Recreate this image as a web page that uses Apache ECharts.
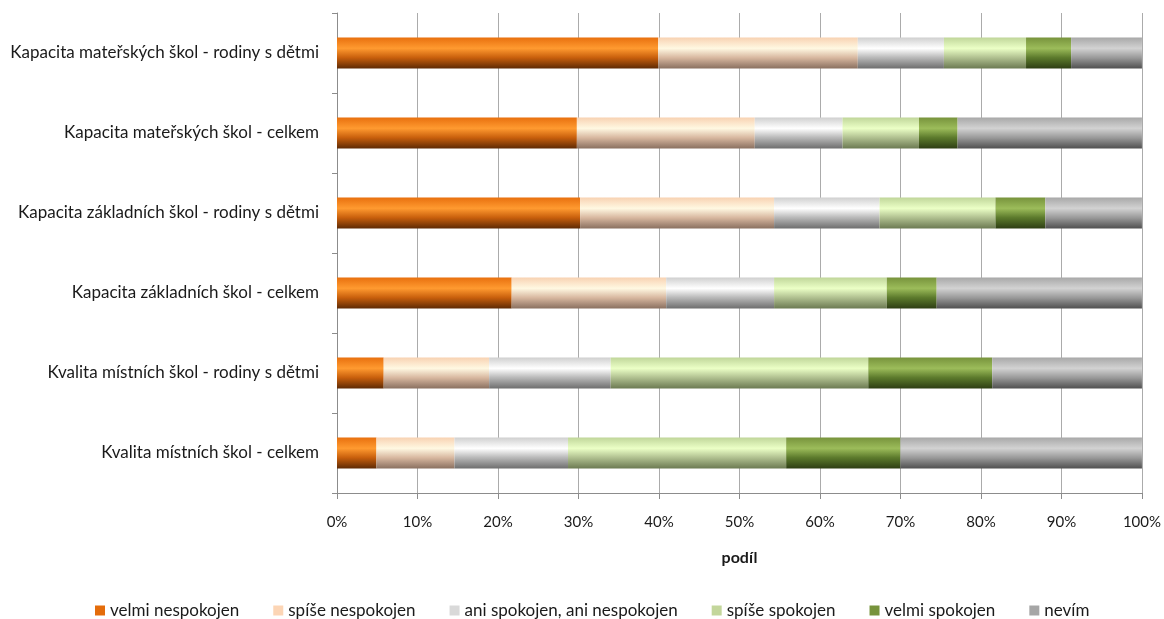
<!DOCTYPE html>
<html>
<head>
<meta charset="utf-8">
<script src="https://cdn.jsdelivr.net/npm/echarts@6/dist/echarts.min.js"></script>
<style>
html,body{margin:0;padding:0;background:#fff;}
#chart{width:1164px;height:619px;}
</style>
</head>
<body>
<div id="chart"></div>
<script>
var categories = [
  "Kapacita mateřských škol - rodiny s dětmi",
  "Kapacita mateřských škol - celkem",
  "Kapacita základních škol - rodiny s dětmi",
  "Kapacita základních škol - celkem",
  "Kvalita místních škol - rodiny s dětmi",
  "Kvalita místních škol - celkem"
];
var seriesNames = ["velmi nespokojen", "spíše nespokojen", "ani spokojen, ani nespokojen", "spíše spokojen", "velmi spokojen", "nevím"];
var velmiNespokojen = [39.9, 29.8, 30.2, 21.7, 5.8, 4.9];
var spiseNespokojen = [24.8, 22.1, 24.1, 19.2, 13.1, 9.7];
var aniAni = [10.7, 10.9, 13.1, 13.4, 15.1, 14.1];
var spiseSpokojen = [10.2, 9.5, 14.4, 14.0, 32.0, 27.1];
var velmiSpokojen = [5.6, 4.8, 6.2, 6.2, 15.4, 14.2];
var nevim = [8.8, 22.9, 12.0, 25.5, 18.6, 30.0];
var xTicks = [0, 10, 20, 30, 40, 50, 60, 70, 80, 90, 100];

var seriesData = [velmiNespokojen, spiseNespokojen, aniAni, spiseSpokojen, velmiSpokojen, nevim];
var legendColors = ["#E46C0A", "#FCD5B5", "#D9D9D9", "#C3D69B", "#77933C", "#A6A6A6"];
var gradStops = [
  ["#E8700E", "#FF9A30", "#C85F0C", "#5E2A04"],
  ["#F8D2B2", "#FFF8E2", "#D8B8A0", "#8A7060"],
  ["#CFCFCF", "#FFFFFF", "#B8B8B8", "#6E6E6E"],
  ["#C0D69A", "#EBFFC6", "#B0C090", "#6C7A52"],
  ["#77933C", "#9CBC5A", "#5C7A2C", "#2E3E14"],
  ["#A8A8A8", "#D2D2D2", "#9A9A9A", "#505050"]
];

var FONT = "Lato";
var chart = echarts.init(document.getElementById('chart'), null, {renderer: 'canvas'});

var series = seriesNames.map(function (name, i) {
  return {
    name: name,
    type: 'bar',
    stack: 'total',
    barWidth: 31,
    data: seriesData[i],
    itemStyle: {
      color: new echarts.graphic.LinearGradient(0, 0, 0, 1, [
        {offset: 0, color: gradStops[i][0]},
        {offset: 0.35, color: gradStops[i][1]},
        {offset: 0.65, color: gradStops[i][2]},
        {offset: 1, color: gradStops[i][3]}
      ])
    },
    emphasis: {disabled: true}
  };
});

chart.setOption({
  animation: false,
  backgroundColor: '#fff',
  color: legendColors,
  grid: {left: 337, right: 21, top: 13, bottom: 126, containLabel: false},
  legend: {
    top: 597,
    left: 90,
    icon: 'rect',
    itemWidth: 10,
    itemHeight: 10,
    itemGap: 34,
    textStyle: {fontFamily: FONT, fontSize: 17, color: '#1a1a1a'},
    data: seriesNames.map(function (n, i) { return {name: n, itemStyle: {color: legendColors[i]}}; })
  },
  xAxis: {
    type: 'value',
    min: xTicks[0],
    max: xTicks[xTicks.length - 1],
    interval: 10,
    name: 'podíl',
    nameLocation: 'middle',
    nameGap: 57,
    nameTextStyle: {fontFamily: FONT, fontSize: 16, fontWeight: 'bold', color: '#1a1a1a'},
    axisLine: {show: true, lineStyle: {color: '#8c8c8c', width: 1}},
    axisTick: {show: true, length: 6, lineStyle: {color: '#8c8c8c'}},
    axisLabel: {formatter: '{value}%', margin: 22, fontFamily: FONT, fontSize: 15, color: '#1a1a1a'},
    splitLine: {show: true, lineStyle: {color: '#ababab', width: 1}}
  },
  yAxis: {
    type: 'category',
    inverse: true,
    data: categories,
    axisLine: {show: true, lineStyle: {color: '#8c8c8c', width: 1}},
    axisTick: {show: true, length: 5, lineStyle: {color: '#8c8c8c'}},
    axisLabel: {margin: 18, fontFamily: FONT, fontSize: 17, color: '#1a1a1a'},
    splitLine: {show: false}
  },
  series: series
});
</script>
</body>
</html>
